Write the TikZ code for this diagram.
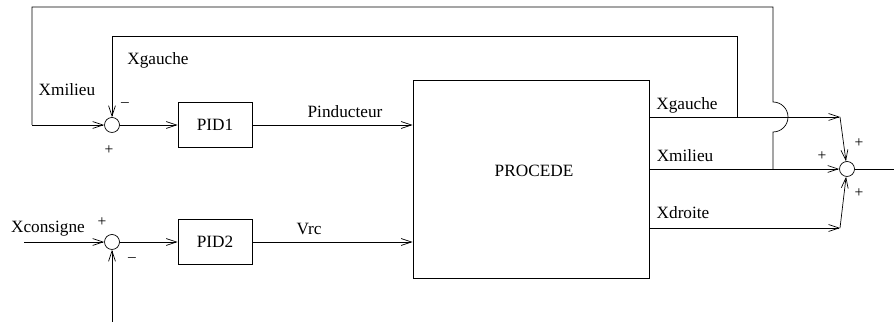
\documentclass[tikz,border=0pt]{standalone}
\usepackage{fontspec}
\setmainfont{Liberation Serif}
\usetikzlibrary{arrows.meta}

\begin{document}
\begin{tikzpicture}[x=0.58pt,y=0.58pt,thin,
    arr/.style={-{Straight Barb[length=6pt,width=4pt]}},
    sum/.style={draw,circle,minimum size=8.7pt,inner sep=0pt},
    blk/.style={draw,rectangle,minimum width=43pt,minimum height=26pt},
    sgn/.style={font=\small}]%
          \useasboundingbox (0,0) rectangle (894,322);%
          % sommateurs et blocs
          \node [sum] (S1) at (112,197) {};%
          \node [sum] (S2) at (112,80) {};%
          \node [sum] (S3) at (847,153) {};%
          \node [blk] (P1) at (215,197) {PID1};%
          \node [blk] (P2) at (215,80) {PID2};%
          \node [draw,minimum width=137pt,minimum height=115pt] (PR) at (531,143) {};%
          \node (T) at (534,151) {PROCEDE};%
          % points de passage
          \coordinate (IN) at (24,80);%
          \coordinate (BOT) at (112,0);%
          \coordinate (OUT) at (894,153);%
          \coordinate (OG) at (649,205);%
          \coordinate (OM) at (649,153);%
          \coordinate (OD) at (649,94);%
          \coordinate (AG) at (840,205);%
          \coordinate (AD) at (840,94);%
          \coordinate (JB) at (773,190);%
          \coordinate (JT) at (773,220);%
          % chaine directe
          \draw [arr] (IN) to (S2.west);%
          \draw [arr] (BOT) to (S2.south);%
          \draw [arr] (S1.east) to (P1.west);%
          \draw [arr] (S2.east) to (P2.west);%
          \draw [arr] (P1.east) to (PR.west |- P1.east);%
          \draw [arr] (P2.east) to (PR.west |- P2.east);%
          % sorties
          \draw [arr] (OG) to (AG);%
          \draw [arr] (AG) to (S3);%
          \draw [arr] (OD) to (AD);%
          \draw [arr] (AD) to (S3);%
          \draw [arr] (OM) to (S3.west);%
          \draw (S3.east) to (OUT);%
          % retours
          \draw [arr] (OG -| 737,0) to (737,286) to (112,286) to (S1.north);%
          \draw (OM -| JB) to (JB) arc [start angle=-90,end angle=90,radius=15] to (773,315) to (32,315) to (32,197);%
          \draw [arr] (32,197) to (S1.west);%
          % textes
          \node at (67,232) {Xmilieu};%
          \node at (158,262) {Xgauche};%
          \node at (345,210) {Pinducteur};%
          \node at (309,93) {Vrc};%
          \node at (48,93) {Xconsigne};%
          \node at (687,217) {Xgauche};%
          \node at (685,166) {Xmilieu};%
          \node at (683,109) {Xdroite};%
          \node [sgn] at (125,217) {--};%
          \node [sgn] at (109,172) {+};%
          \node [sgn] at (102,100) {+};%
          \node [sgn] at (132,62) {--};%
          \node [sgn] at (859,179) {+};%
          \node [sgn] at (822,166) {+};%
          \node [sgn] at (859,129) {+};%
        \end{tikzpicture}
\end{document}
